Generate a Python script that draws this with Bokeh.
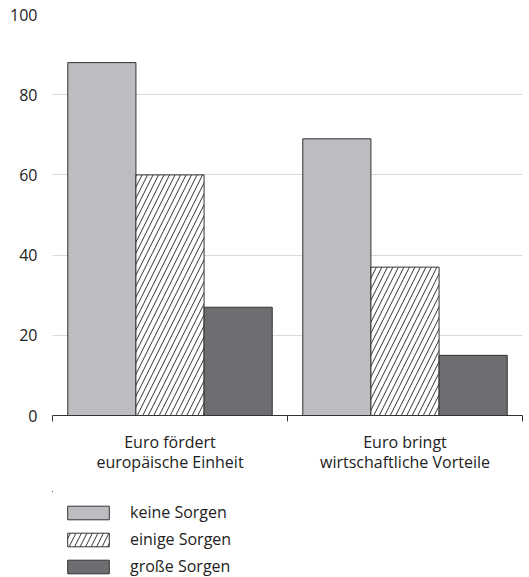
from bokeh.plotting import figure
from bokeh.layouts import column
from bokeh.models import Range1d, FixedTicker, Legend, LegendItem, ColumnDataSource
from bokeh.transform import dodge
from bokeh.embed import file_html
from bokeh.resources import INLINE
import numpy as np

categories = ["Euro fördert\neuropäische Einheit", "Euro bringt\nwirtschaftliche Vorteile"]
series = ["keine Sorgen", "einige Sorgen", "große Sorgen"]
keine = [88, 69]
einige = [60, 37]
grosse = [27, 15]
y_ticks = [0, 20, 40, 60, 80, 100]

FONT = "Open Sans"
styles = [
    dict(fill_color="#bcbdc1", line_color="#333333", line_width=1),
    dict(fill_color="white", line_color="#333333", line_width=1,
         hatch_pattern="/", hatch_color="#333333", hatch_scale=11, hatch_weight=1),
    dict(fill_color="#6d6e71", line_color="#333333", line_width=1),
]
cols = ["keine", "einige", "grosse"]

centers = np.arange(len(categories)) + 0.5
src = ColumnDataSource(dict(x=centers, keine=keine, einige=einige, grosse=grosse))

p = figure(frame_width=470, frame_height=401, output_backend="svg", toolbar_location=None,
           x_range=Range1d(0, len(categories)), y_range=Range1d(0, 100),
           min_border_left=52, min_border_right=6, min_border_top=14, min_border_bottom=76)
p.outline_line_color = None
p.background_fill_color = "white"

bw = 0.29
for off, col, st in zip([-bw, 0, bw], cols, styles):
    p.vbar(x=dodge("x", off, range=p.x_range), top=col, width=bw, source=src, **st)

# x axis
xa = p.xaxis[0]
xa.ticker = FixedTicker(ticks=list(centers), minor_ticks=list(range(len(categories) + 1)))
xa.major_label_overrides = {float(c): lab for c, lab in zip(centers, categories)}
xa.major_tick_line_color = None
xa.major_tick_out = 0
xa.major_tick_in = 0
xa.minor_tick_line_color = "#333333"
xa.minor_tick_out = 6
xa.minor_tick_in = 0
xa.axis_line_color = "#333333"
xa.major_label_text_font = FONT
xa.major_label_text_font_size = "16px"
xa.major_label_text_color = "#222222"
xa.major_label_text_line_height = 0.95
xa.major_label_standoff = 9
p.xgrid.grid_line_color = None

# y axis
ya = p.yaxis[0]
ya.ticker = FixedTicker(ticks=y_ticks)
ya.axis_line_color = None
ya.major_tick_line_color = None
ya.minor_tick_line_color = None
ya.major_tick_out = 0
ya.major_tick_in = 0
ya.major_label_standoff = 15
ya.major_label_text_font = FONT
ya.major_label_text_font_size = "16px"
ya.major_label_text_color = "#222222"
p.ygrid.ticker = FixedTicker(ticks=y_ticks)
p.ygrid.grid_line_color = "#d9d9d9"
p.ygrid.grid_line_width = 1

# legend in its own small figure below (its bars lie far outside its visible ranges)
lg = figure(frame_width=528, frame_height=86, output_backend="svg", toolbar_location=None,
            x_range=Range1d(50, 51), y_range=Range1d(-200, -199),
            x_axis_location=None, y_axis_location=None,
            min_border_left=0, min_border_right=0, min_border_top=0, min_border_bottom=0)
lg.outline_line_color = None
lg.xgrid.grid_line_color = None
lg.ygrid.grid_line_color = None
rends = [lg.vbar(x="x", top=col, width=bw, source=src, **st) for col, st in zip(cols, styles)]

legend = Legend(items=[LegendItem(label=s, renderers=[r]) for s, r in zip(series, rends)],
                location=(62, 0), orientation="vertical")
legend.border_line_color = None
legend.background_fill_alpha = 0
legend.label_text_font = FONT
legend.label_text_font_size = "16px"
legend.label_text_color = "#222222"
legend.glyph_width = 52
legend.glyph_height = 17
legend.label_height = 17
legend.spacing = 5
legend.label_standoff = 16
legend.padding = 0
legend.margin = 0
lg.add_layout(legend, "center")

layout = column(p, lg, spacing=0)
open("out.html", "w").write(file_html(layout, INLINE))
